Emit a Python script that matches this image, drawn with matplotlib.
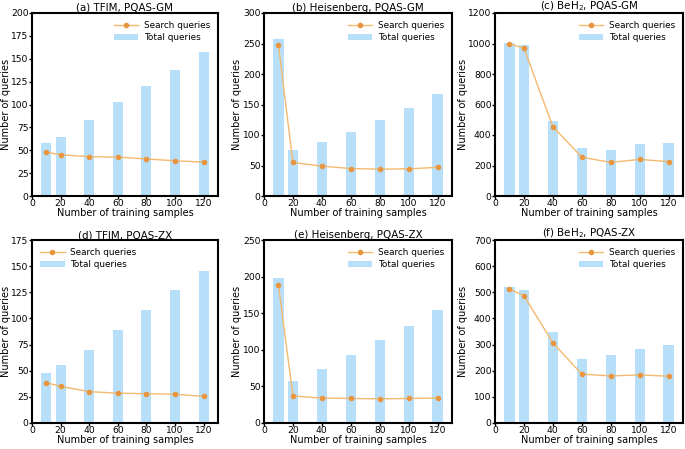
import matplotlib.pyplot as plt

samples = [10, 20, 40, 60, 80, 100, 120]

titles = [
    "(a) TFIM, PQAS-GM",
    "(b) Heisenberg, PQAS-GM",
    "(c) BeH$_2$, PQAS-GM",
    "(d) TFIM, PQAS-ZX",
    "(e) Heisenberg, PQAS-ZX",
    "(f) BeH$_2$, PQAS-ZX",
]

total_a = [58, 65, 83, 103, 120, 138, 157]
search_a = [48, 45, 43, 42.5, 40.5, 38.5, 37]
total_b = [257, 75, 88, 105, 124, 145, 167]
search_b = [247, 55, 49, 45, 44, 44.5, 47]
total_c = [1005, 990, 495, 315, 300, 338, 345]
search_c = [997, 970, 455, 255, 220, 240, 225]
total_d = [48, 55, 70, 89, 108, 127, 145]
search_d = [38.5, 35, 30, 28.5, 28, 27.5, 25.5]
total_e = [198, 57, 74, 93, 114, 133, 154]
search_e = [188, 37, 34, 33.5, 33, 33.5, 34]
total_f = [522, 508, 347, 246, 260, 283, 298]
search_f = [512, 487, 307, 187, 180, 184, 179]

totals = [total_a, total_b, total_c, total_d, total_e, total_f]
searches = [search_a, search_b, search_c, search_d, search_e, search_f]
y_limits = [(0, 200, 25), (0, 300, 50), (0, 1200, 200),
            (0, 175, 25), (0, 250, 50), (0, 700, 100)]
legend_locs = ["upper right", "upper right", "upper right",
               "upper left", "upper right", "upper right"]

# axes boxes in pixels: left, right, top, bottom
cols = [(32, 218), (264, 452), (495, 683)]
rows = [(13, 196), (240, 423)]
ylabel_x = [-0.112, -0.117, -0.144]

W, H = 685, 449
fig = plt.figure(figsize=(W / 100, H / 100), dpi=100)
plt.rcParams["font.family"] = "DejaVu Sans"

for i in range(6):
    r, c = divmod(i, 3)
    x0, x1 = cols[c]
    t0, t1 = rows[r]
    ax = fig.add_axes([x0 / W, 1 - t1 / H, (x1 - x0) / W, (t1 - t0) / H])
    ax.bar(samples, totals[i], width=7, color="#b8dff9", label="Total queries", zorder=1)
    ax.plot(samples, searches[i], color="#f4b96e", marker="o", markersize=3,
            markerfacecolor="#e8953f", markeredgecolor="#e8953f", lw=1,
            label="Search queries", zorder=2)
    lo, hi, step = y_limits[i]
    ax.set_ylim(lo, hi)
    ax.set_yticks(range(lo, hi + 1, step))
    ax.set_xlim(0, 130)
    ax.set_xticks([0, 20, 40, 60, 80, 100, 120])
    ax.tick_params(direction="out", labelsize=6.6, length=2, width=1, pad=0.5)
    for s in ax.spines.values():
        s.set_linewidth(1.5)
    ax.set_title(titles[i], fontsize=7.4, pad=0.5)
    ax.set_xlabel("Number of training samples", fontsize=7, labelpad=0)
    ax.set_ylabel("Number of queries", fontsize=7)
    ax.yaxis.set_label_coords(ylabel_x[c], 0.5)
    handles, labels = ax.get_legend_handles_labels()
    order = [labels.index("Search queries"), labels.index("Total queries")]
    ax.legend([handles[k] for k in order], [labels[k] for k in order],
              loc=legend_locs[i], frameon=False, fontsize=6.4, handlelength=2.8,
              borderaxespad=0.5, labelspacing=0.35, handletextpad=0.6)

fig.savefig("out.png", dpi=100)
